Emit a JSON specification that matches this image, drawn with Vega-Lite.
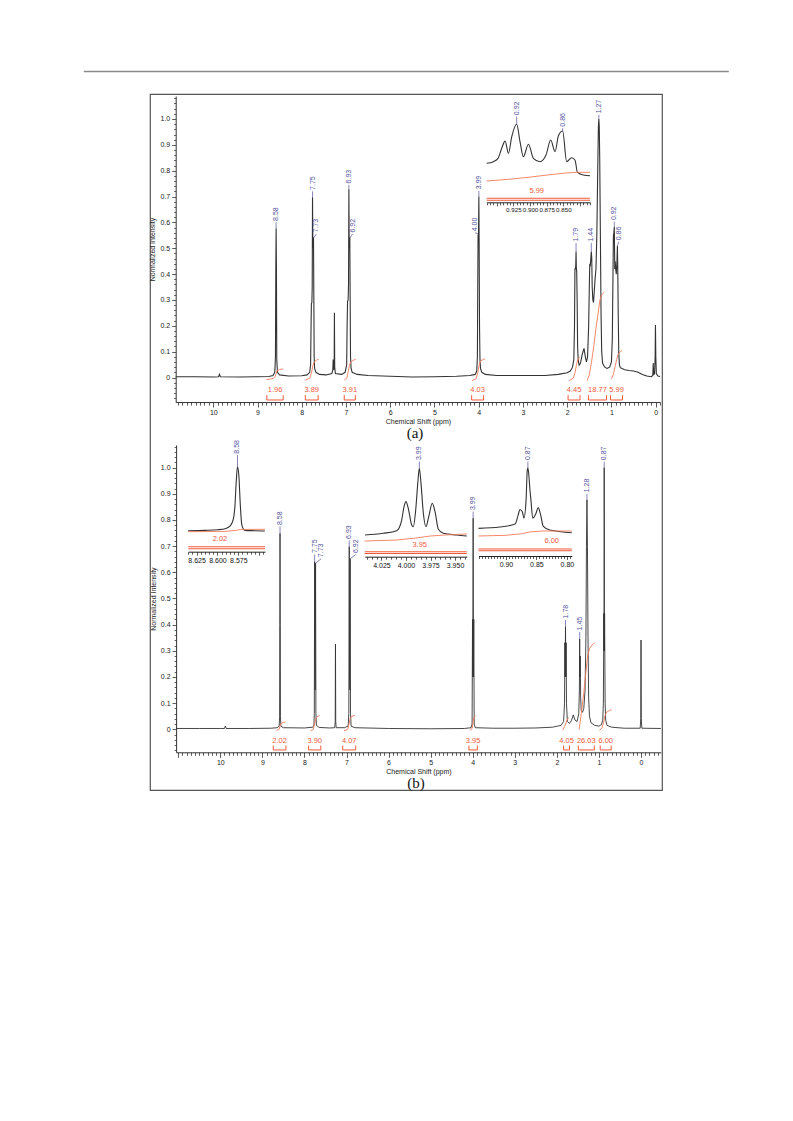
{
"$schema":"https://vega.github.io/schema/vega-lite/v6.json",
"width":512,"height":696,
"autosize":{"type":"none"},
"padding":{"left":150,"top":94,"right":131,"bottom":331},
"background":"white",
"config":{"view":{"stroke":"#555","strokeWidth":1.2},
"axis":{"grid":false,"labelFont":"Liberation Sans","titleFont":"Liberation Sans","labelFontSize":7,"titleFontSize":7,"titleFontWeight":"normal","domainColor":"#333","tickColor":"#333","labelColor":"#222","titleColor":"#222","domainWidth":1,"tickWidth":0.8},
"text":{"font":"Liberation Sans"}},
"datasets":{
"specA":[{"ppm":10.85,"y":0.003},{"ppm":10.4,"y":0.003},{"ppm":10.0,"y":0.002},{"ppm":9.88,"y":0.003},{"ppm":9.86,"y":0.012},{"ppm":9.84,"y":0.003},{"ppm":9.4,"y":0.002},{"ppm":9.0,"y":0.003},{"ppm":8.75,"y":0.004},{"ppm":8.65,"y":0.008},{"ppm":8.61,"y":0.02},{"ppm":8.595,"y":0.08},{"ppm":8.587,"y":0.42},{"ppm":8.58,"y":0.577},{"ppm":8.573,"y":0.42},{"ppm":8.565,"y":0.07},{"ppm":8.55,"y":0.02},{"ppm":8.5,"y":0.01},{"ppm":8.3,"y":0.006},{"ppm":8.0,"y":0.007},{"ppm":7.88,"y":0.01},{"ppm":7.82,"y":0.02},{"ppm":7.8,"y":0.05},{"ppm":7.79,"y":0.2},{"ppm":7.783,"y":0.285},{"ppm":7.772,"y":0.29},{"ppm":7.764,"y":0.35},{"ppm":7.757,"y":0.697},{"ppm":7.75,"y":0.5},{"ppm":7.744,"y":0.54},{"ppm":7.735,"y":0.54},{"ppm":7.727,"y":0.3},{"ppm":7.72,"y":0.08},{"ppm":7.71,"y":0.035},{"ppm":7.68,"y":0.02},{"ppm":7.6,"y":0.012},{"ppm":7.45,"y":0.01},{"ppm":7.32,"y":0.015},{"ppm":7.298,"y":0.03},{"ppm":7.29,"y":0.07},{"ppm":7.282,"y":0.03},{"ppm":7.268,"y":0.04},{"ppm":7.262,"y":0.25},{"ppm":7.256,"y":0.04},{"ppm":7.24,"y":0.015},{"ppm":7.1,"y":0.012},{"ppm":7.02,"y":0.02},{"ppm":6.985,"y":0.05},{"ppm":6.975,"y":0.2},{"ppm":6.965,"y":0.295},{"ppm":6.952,"y":0.3},{"ppm":6.943,"y":0.36},{"ppm":6.935,"y":0.728},{"ppm":6.928,"y":0.5},{"ppm":6.922,"y":0.54},{"ppm":6.914,"y":0.54},{"ppm":6.906,"y":0.3},{"ppm":6.898,"y":0.08},{"ppm":6.885,"y":0.035},{"ppm":6.86,"y":0.02},{"ppm":6.75,"y":0.012},{"ppm":6.5,"y":0.008},{"ppm":6.0,"y":0.005},{"ppm":5.5,"y":0.002},{"ppm":5.0,"y":0.003},{"ppm":4.5,"y":0.005},{"ppm":4.2,"y":0.008},{"ppm":4.08,"y":0.012},{"ppm":4.045,"y":0.025},{"ppm":4.03,"y":0.08},{"ppm":4.022,"y":0.35},{"ppm":4.015,"y":0.55},{"ppm":4.005,"y":0.555},{"ppm":3.997,"y":0.7},{"ppm":3.99,"y":0.5},{"ppm":3.982,"y":0.2},{"ppm":3.972,"y":0.07},{"ppm":3.96,"y":0.035},{"ppm":3.93,"y":0.02},{"ppm":3.85,"y":0.012},{"ppm":3.6,"y":0.008},{"ppm":3.0,"y":0.008},{"ppm":2.5,"y":0.008},{"ppm":2.2,"y":0.012},{"ppm":2.0,"y":0.018},{"ppm":1.93,"y":0.025},{"ppm":1.88,"y":0.04},{"ppm":1.85,"y":0.07},{"ppm":1.835,"y":0.2},{"ppm":1.825,"y":0.42},{"ppm":1.815,"y":0.42},{"ppm":1.807,"y":0.43},{"ppm":1.8,"y":0.487},{"ppm":1.793,"y":0.42},{"ppm":1.785,"y":0.41},{"ppm":1.775,"y":0.3},{"ppm":1.765,"y":0.12},{"ppm":1.75,"y":0.065},{"ppm":1.73,"y":0.048},{"ppm":1.7,"y":0.055},{"ppm":1.66,"y":0.09},{"ppm":1.62,"y":0.113},{"ppm":1.59,"y":0.08},{"ppm":1.565,"y":0.06},{"ppm":1.54,"y":0.08},{"ppm":1.515,"y":0.2},{"ppm":1.5,"y":0.35},{"ppm":1.49,"y":0.44},{"ppm":1.48,"y":0.43},{"ppm":1.47,"y":0.45},{"ppm":1.455,"y":0.487},{"ppm":1.445,"y":0.46},{"ppm":1.435,"y":0.35},{"ppm":1.42,"y":0.3},{"ppm":1.405,"y":0.29},{"ppm":1.39,"y":0.33},{"ppm":1.37,"y":0.38},{"ppm":1.35,"y":0.42},{"ppm":1.33,"y":0.55},{"ppm":1.31,"y":0.8},{"ppm":1.295,"y":0.97},{"ppm":1.285,"y":1.0},{"ppm":1.275,"y":0.97},{"ppm":1.265,"y":0.85},{"ppm":1.25,"y":0.55},{"ppm":1.235,"y":0.25},{"ppm":1.22,"y":0.1},{"ppm":1.2,"y":0.055},{"ppm":1.15,"y":0.04},{"ppm":1.1,"y":0.035},{"ppm":1.04,"y":0.04},{"ppm":1.0,"y":0.06},{"ppm":0.98,"y":0.15},{"ppm":0.965,"y":0.4},{"ppm":0.955,"y":0.55},{"ppm":0.945,"y":0.56},{"ppm":0.935,"y":0.583},{"ppm":0.925,"y":0.42},{"ppm":0.915,"y":0.45},{"ppm":0.905,"y":0.42},{"ppm":0.89,"y":0.4},{"ppm":0.875,"y":0.45},{"ppm":0.865,"y":0.51},{"ppm":0.857,"y":0.42},{"ppm":0.847,"y":0.25},{"ppm":0.835,"y":0.1},{"ppm":0.82,"y":0.05},{"ppm":0.8,"y":0.038},{"ppm":0.7,"y":0.03},{"ppm":0.6,"y":0.027},{"ppm":0.5,"y":0.025},{"ppm":0.4,"y":0.02},{"ppm":0.3,"y":0.012},{"ppm":0.2,"y":0.006},{"ppm":0.1,"y":0.003},{"ppm":0.065,"y":0.008},{"ppm":0.055,"y":0.056},{"ppm":0.045,"y":0.012},{"ppm":0.025,"y":0.015},{"ppm":0.012,"y":0.08},{"ppm":0.005,"y":0.203},{"ppm":-0.003,"y":0.08},{"ppm":-0.015,"y":0.015},{"ppm":-0.05,"y":0.006},{"ppm":-0.1,"y":0.004}],
"intA":[{"g":"a1","ppm":8.8,"y":-0.008},{"g":"a1","ppm":8.65,"y":-0.004},{"g":"a1","ppm":8.6,"y":0.004},{"g":"a1","ppm":8.58,"y":0.015},{"g":"a1","ppm":8.56,"y":0.026},{"g":"a1","ppm":8.5,"y":0.031},{"g":"a1","ppm":8.42,"y":0.033},
{"g":"a2","ppm":7.92,"y":-0.01},{"g":"a2","ppm":7.82,"y":-0.003},{"g":"a2","ppm":7.78,"y":0.018},{"g":"a2","ppm":7.75,"y":0.045},{"g":"a2","ppm":7.72,"y":0.06},{"g":"a2","ppm":7.66,"y":0.068},{"g":"a2","ppm":7.62,"y":0.07},
{"g":"a3","ppm":7.04,"y":-0.01},{"g":"a3","ppm":6.98,"y":-0.002},{"g":"a3","ppm":6.95,"y":0.022},{"g":"a3","ppm":6.92,"y":0.05},{"g":"a3","ppm":6.88,"y":0.062},{"g":"a3","ppm":6.82,"y":0.068},{"g":"a3","ppm":6.78,"y":0.07},
{"g":"a4","ppm":4.15,"y":-0.012},{"g":"a4","ppm":4.06,"y":-0.005},{"g":"a4","ppm":4.02,"y":0.02},{"g":"a4","ppm":3.99,"y":0.048},{"g":"a4","ppm":3.96,"y":0.063},{"g":"a4","ppm":3.9,"y":0.07},{"g":"a4","ppm":3.86,"y":0.072},
{"g":"a5","ppm":1.95,"y":-0.012},{"g":"a5","ppm":1.86,"y":-0.002},{"g":"a5","ppm":1.82,"y":0.02},{"g":"a5","ppm":1.79,"y":0.05},{"g":"a5","ppm":1.76,"y":0.068},{"g":"a5","ppm":1.72,"y":0.08},
{"g":"a6","ppm":1.55,"y":-0.012},{"g":"a6","ppm":1.5,"y":0.01},{"g":"a6","ppm":1.45,"y":0.06},{"g":"a6","ppm":1.4,"y":0.12},{"g":"a6","ppm":1.35,"y":0.19},{"g":"a6","ppm":1.3,"y":0.25},{"g":"a6","ppm":1.26,"y":0.3},{"g":"a6","ppm":1.22,"y":0.32},{"g":"a6","ppm":1.16,"y":0.33},
{"g":"a7","ppm":1.0,"y":-0.005},{"g":"a7","ppm":0.96,"y":0.01},{"g":"a7","ppm":0.92,"y":0.04},{"g":"a7","ppm":0.88,"y":0.07},{"g":"a7","ppm":0.85,"y":0.09},{"g":"a7","ppm":0.8,"y":0.1},{"g":"a7","ppm":0.76,"y":0.105}],
"brkA":[{"lo":8.79,"hi":8.42,"mid":8.605,"label":"1.96"},{"lo":7.92,"hi":7.63,"mid":7.775,"label":"3.89"},{"lo":7.04,"hi":6.79,"mid":6.915,"label":"3.91"},{"lo":4.16,"hi":3.89,"mid":4.025,"label":"4.03"},{"lo":1.98,"hi":1.71,"mid":1.845,"label":"4.45"},{"lo":1.52,"hi":1.11,"mid":1.315,"label":"18.77"},{"lo":1.02,"hi":0.75,"mid":0.885,"label":"5.99"}],
"pkA":[{"px":8.58,"py":0.577,"lx":8.58,"ly":0.6,"label":"8.58"},{"px":7.757,"py":0.697,"lx":7.757,"ly":0.72,"label":"7.75"},{"px":7.735,"py":0.54,"lx":7.67,"ly":0.555,"label":"7.73"},{"px":6.935,"py":0.728,"lx":6.935,"ly":0.745,"label":"6.93"},{"px":6.914,"py":0.54,"lx":6.85,"ly":0.555,"label":"6.92"},{"px":3.997,"py":0.7,"lx":3.997,"ly":0.722,"label":"3.99"},{"px":4.012,"py":0.555,"lx":4.08,"ly":0.56,"label":"4.00"},{"px":1.8,"py":0.487,"lx":1.8,"ly":0.52,"label":"1.79"},{"px":1.455,"py":0.487,"lx":1.455,"ly":0.52,"label":"1.44"},{"px":1.285,"py":1.0,"lx":1.285,"ly":1.016,"label":"1.27"},{"px":0.935,"py":0.583,"lx":0.935,"ly":0.603,"label":"0.92"},{"px":0.865,"py":0.51,"lx":0.83,"ly":0.525,"label":"0.86"}],
"insA":[{"ppm":0.965,"v":0.35},{"ppm":0.955,"v":0.377},{"ppm":0.948,"v":0.433},{"ppm":0.9425,"v":0.6},{"ppm":0.9374,"v":0.72},{"ppm":0.9324,"v":0.517},{"ppm":0.9274,"v":0.793},{"ppm":0.92,"v":1.0},{"ppm":0.915,"v":0.71},{"ppm":0.91,"v":0.46},{"ppm":0.9024,"v":0.667},{"ppm":0.8949,"v":0.433},{"ppm":0.885,"v":0.377},{"ppm":0.876,"v":0.488},{"ppm":0.869,"v":0.738},{"ppm":0.8624,"v":0.543},{"ppm":0.8574,"v":0.81},{"ppm":0.851,"v":0.888},{"ppm":0.845,"v":0.377},{"ppm":0.8374,"v":0.443},{"ppm":0.8324,"v":0.4},{"ppm":0.8289,"v":0.2},{"ppm":0.82,"v":0.155},{"ppm":0.81,"v":0.143}],
"insAint":[{"ppm":0.965,"v":0.055},{"ppm":0.93,"v":0.085},{"ppm":0.9,"v":0.12},{"ppm":0.87,"v":0.16},{"ppm":0.845,"v":0.19},{"ppm":0.83,"v":0.2},{"ppm":0.81,"v":0.2}],
"insApk":[{"px":0.92,"py":1.0,"ly":1.127,"label":"0.92"},{"px":0.851,"py":0.888,"ly":0.935,"label":"0.86"}],
"specB":[{"ppm":11.05,"y":0.003},{"ppm":10.5,"y":0.003},{"ppm":10.0,"y":0.003},{"ppm":9.9,"y":0.003},{"ppm":9.88,"y":0.012},{"ppm":9.86,"y":0.003},{"ppm":9.3,"y":0.003},{"ppm":8.8,"y":0.004},{"ppm":8.65,"y":0.006},{"ppm":8.6,"y":0.012},{"ppm":8.59,"y":0.05},{"ppm":8.585,"y":0.4},{"ppm":8.58,"y":0.749},{"ppm":8.575,"y":0.4},{"ppm":8.57,"y":0.05},{"ppm":8.56,"y":0.012},{"ppm":8.5,"y":0.006},{"ppm":8.0,"y":0.005},{"ppm":7.8,"y":0.008},{"ppm":7.775,"y":0.015},{"ppm":7.765,"y":0.06},{"ppm":7.757,"y":0.641},{"ppm":7.75,"y":0.2},{"ppm":7.743,"y":0.15},{"ppm":7.735,"y":0.635},{"ppm":7.727,"y":0.06},{"ppm":7.715,"y":0.015},{"ppm":7.65,"y":0.007},{"ppm":7.4,"y":0.005},{"ppm":7.28,"y":0.006},{"ppm":7.268,"y":0.03},{"ppm":7.262,"y":0.326},{"ppm":7.256,"y":0.03},{"ppm":7.245,"y":0.006},{"ppm":7.05,"y":0.006},{"ppm":6.96,"y":0.012},{"ppm":6.945,"y":0.06},{"ppm":6.935,"y":0.698},{"ppm":6.928,"y":0.2},{"ppm":6.92,"y":0.15},{"ppm":6.913,"y":0.652},{"ppm":6.905,"y":0.06},{"ppm":6.89,"y":0.012},{"ppm":6.8,"y":0.006},{"ppm":6.0,"y":0.003},{"ppm":5.0,"y":0.002},{"ppm":4.2,"y":0.003},{"ppm":4.04,"y":0.006},{"ppm":4.015,"y":0.02},{"ppm":4.005,"y":0.42},{"ppm":3.998,"y":0.2},{"ppm":3.99,"y":0.807},{"ppm":3.982,"y":0.2},{"ppm":3.975,"y":0.42},{"ppm":3.965,"y":0.02},{"ppm":3.94,"y":0.006},{"ppm":3.5,"y":0.004},{"ppm":3.0,"y":0.004},{"ppm":2.5,"y":0.005},{"ppm":2.1,"y":0.008},{"ppm":1.9,"y":0.015},{"ppm":1.84,"y":0.03},{"ppm":1.818,"y":0.1},{"ppm":1.81,"y":0.331},{"ppm":1.803,"y":0.2},{"ppm":1.795,"y":0.392},{"ppm":1.787,"y":0.2},{"ppm":1.78,"y":0.331},{"ppm":1.772,"y":0.1},{"ppm":1.75,"y":0.03},{"ppm":1.7,"y":0.022},{"ppm":1.65,"y":0.035},{"ppm":1.61,"y":0.055},{"ppm":1.57,"y":0.035},{"ppm":1.52,"y":0.03},{"ppm":1.48,"y":0.06},{"ppm":1.465,"y":0.15},{"ppm":1.458,"y":0.345},{"ppm":1.452,"y":0.2},{"ppm":1.445,"y":0.28},{"ppm":1.435,"y":0.12},{"ppm":1.42,"y":0.07},{"ppm":1.39,"y":0.065},{"ppm":1.36,"y":0.08},{"ppm":1.33,"y":0.15},{"ppm":1.31,"y":0.35},{"ppm":1.297,"y":0.7},{"ppm":1.285,"y":0.877},{"ppm":1.273,"y":0.7},{"ppm":1.26,"y":0.35},{"ppm":1.245,"y":0.12},{"ppm":1.225,"y":0.05},{"ppm":1.19,"y":0.025},{"ppm":1.1,"y":0.015},{"ppm":1.0,"y":0.012},{"ppm":0.94,"y":0.018},{"ppm":0.91,"y":0.035},{"ppm":0.895,"y":0.1},{"ppm":0.888,"y":0.3},{"ppm":0.884,"y":0.443},{"ppm":0.879,"y":0.3},{"ppm":0.875,"y":1.0},{"ppm":0.87,"y":0.3},{"ppm":0.866,"y":0.443},{"ppm":0.861,"y":0.3},{"ppm":0.853,"y":0.1},{"ppm":0.84,"y":0.035},{"ppm":0.81,"y":0.015},{"ppm":0.7,"y":0.008},{"ppm":0.4,"y":0.004},{"ppm":0.02,"y":0.004},{"ppm":0.006,"y":0.04},{"ppm":0.0,"y":0.341},{"ppm":-0.006,"y":0.04},{"ppm":-0.02,"y":0.004},{"ppm":-0.47,"y":0.003}],
"intB":[{"g":"b1","ppm":8.66,"y":-0.005},{"g":"b1","ppm":8.6,"y":0.0},{"g":"b1","ppm":8.58,"y":0.012},{"g":"b1","ppm":8.56,"y":0.022},{"g":"b1","ppm":8.5,"y":0.026},{"g":"b1","ppm":8.45,"y":0.028},
{"g":"b2","ppm":7.86,"y":-0.006},{"g":"b2","ppm":7.79,"y":0.0},{"g":"b2","ppm":7.76,"y":0.02},{"g":"b2","ppm":7.73,"y":0.04},{"g":"b2","ppm":7.7,"y":0.048},{"g":"b2","ppm":7.64,"y":0.052},
{"g":"b3","ppm":7.06,"y":-0.006},{"g":"b3","ppm":6.97,"y":0.0},{"g":"b3","ppm":6.94,"y":0.02},{"g":"b3","ppm":6.91,"y":0.042},{"g":"b3","ppm":6.87,"y":0.05},{"g":"b3","ppm":6.8,"y":0.053},
{"g":"b4","ppm":4.06,"y":-0.005},{"g":"b4","ppm":4.01,"y":0.005},{"g":"b4","ppm":3.99,"y":0.03},{"g":"b4","ppm":3.97,"y":0.045},{"g":"b4","ppm":3.93,"y":0.052},
{"g":"b5","ppm":1.86,"y":-0.003},{"g":"b5","ppm":1.82,"y":0.01},{"g":"b5","ppm":1.79,"y":0.02},{"g":"b5","ppm":1.76,"y":0.035},{"g":"b5","ppm":1.72,"y":0.045},
{"g":"b6","ppm":1.47,"y":0.0},{"g":"b6","ppm":1.42,"y":0.06},{"g":"b6","ppm":1.36,"y":0.14},{"g":"b6","ppm":1.31,"y":0.22},{"g":"b6","ppm":1.27,"y":0.28},{"g":"b6","ppm":1.22,"y":0.31},{"g":"b6","ppm":1.15,"y":0.325},{"g":"b6","ppm":1.1,"y":0.33},
{"g":"b7","ppm":0.99,"y":-0.005},{"g":"b7","ppm":0.93,"y":0.005},{"g":"b7","ppm":0.89,"y":0.025},{"g":"b7","ppm":0.86,"y":0.05},{"g":"b7","ppm":0.82,"y":0.065},{"g":"b7","ppm":0.75,"y":0.072},{"g":"b7","ppm":0.7,"y":0.075}],
"brkB":[{"lo":8.74,"hi":8.44,"mid":8.59,"label":"2.02"},{"lo":7.9,"hi":7.61,"mid":7.755,"label":"3.90"},{"lo":7.09,"hi":6.78,"mid":6.935,"label":"4.07"},{"lo":4.09,"hi":3.89,"mid":3.99,"label":"3.95"},{"lo":1.84,"hi":1.7,"mid":1.77,"label":"4.05"},{"lo":1.49,"hi":1.11,"mid":1.3,"label":"26.03"},{"lo":0.97,"hi":0.71,"mid":0.84,"label":"6.00"}],
"pkB":[{"px":8.58,"py":0.749,"lx":8.58,"ly":0.775,"label":"8.58"},{"px":7.757,"py":0.641,"lx":7.757,"ly":0.668,"label":"7.75"},{"px":7.735,"py":0.635,"lx":7.6,"ly":0.652,"label":"7.73"},{"px":6.935,"py":0.698,"lx":6.935,"ly":0.722,"label":"6.93"},{"px":6.913,"py":0.652,"lx":6.78,"ly":0.668,"label":"6.92"},{"px":3.99,"py":0.807,"lx":3.99,"ly":0.832,"label":"3.99"},{"px":1.795,"py":0.392,"lx":1.795,"ly":0.418,"label":"1.78"},{"px":1.458,"py":0.345,"lx":1.458,"ly":0.372,"label":"1.45"},{"px":1.285,"py":0.877,"lx":1.285,"ly":0.9,"label":"1.28"},{"px":0.875,"py":1.0,"lx":0.875,"ly":1.023,"label":"0.87"}],
"insB1":[{"ppm":8.6353,"v":0.0},{"ppm":8.615,"v":0.005},{"ppm":8.6,"v":0.015},{"ppm":8.59,"v":0.035},{"ppm":8.5845,"v":0.08},{"ppm":8.581,"v":0.18},{"ppm":8.579,"v":0.4},{"ppm":8.5774,"v":0.79},{"ppm":8.576,"v":1.0},{"ppm":8.5744,"v":0.87},{"ppm":8.5726,"v":0.4},{"ppm":8.5708,"v":0.09},{"ppm":8.5672,"v":0.005},{"ppm":8.555,"v":0.0},{"ppm":8.5432,"v":-0.005}],
"insB1int":[{"ppm":8.635,"v":-0.016},{"ppm":8.59,"v":-0.01},{"ppm":8.578,"v":0.005},{"ppm":8.572,"v":0.02},{"ppm":8.543,"v":0.022}],
"insB2":[{"ppm":4.0418,"v":0.015},{"ppm":4.0232,"v":0.04},{"ppm":4.0095,"v":0.078},{"ppm":4.0044,"v":0.236},{"ppm":4.002,"v":0.433},{"ppm":4.0,"v":0.507},{"ppm":3.9977,"v":0.41},{"ppm":3.9942,"v":0.162},{"ppm":3.9926,"v":0.137},{"ppm":3.9901,"v":0.384},{"ppm":3.988,"v":0.778},{"ppm":3.9864,"v":1.0},{"ppm":3.9847,"v":0.778},{"ppm":3.9823,"v":0.335},{"ppm":3.9796,"v":0.137},{"ppm":3.9768,"v":0.285},{"ppm":3.9732,"v":0.483},{"ppm":3.9704,"v":0.359},{"ppm":3.967,"v":0.099},{"ppm":3.9619,"v":0.04},{"ppm":3.9483,"v":0.015},{"ppm":3.938,"v":0.0}],
"insB2int":[{"ppm":4.042,"v":-0.074},{"ppm":4.01,"v":-0.06},{"ppm":3.99,"v":-0.03},{"ppm":3.975,"v":0.0},{"ppm":3.96,"v":0.015},{"ppm":3.938,"v":0.03}],
"insB3":[{"ppm":0.945,"v":0.027},{"ppm":0.91,"v":0.048},{"ppm":0.885,"v":0.096},{"ppm":0.88,"v":0.24},{"ppm":0.877,"v":0.33},{"ppm":0.873,"v":0.29},{"ppm":0.8705,"v":0.19},{"ppm":0.867,"v":0.48},{"ppm":0.865,"v":0.96},{"ppm":0.864,"v":1.0},{"ppm":0.862,"v":0.83},{"ppm":0.861,"v":0.69},{"ppm":0.859,"v":0.48},{"ppm":0.856,"v":0.19},{"ppm":0.851,"v":0.26},{"ppm":0.847,"v":0.36},{"ppm":0.843,"v":0.24},{"ppm":0.839,"v":0.064},{"ppm":0.828,"v":0.0},{"ppm":0.792,"v":-0.043}],
"insB3int":[{"ppm":0.945,"v":-0.096},{"ppm":0.9,"v":-0.085},{"ppm":0.875,"v":-0.06},{"ppm":0.86,"v":-0.03},{"ppm":0.84,"v":-0.016},{"ppm":0.792,"v":-0.016}]
},
"layer":[
{"data":{"values":[{"e":0},{"e":1}]},"mark":{"type":"point","opacity":0},
 "encoding":{"x":{"field":"e","type":"quantitative","scale":{"domain":[0,1],"range":[-66.7,578.3],"nice":false,"zero":false},"axis":{"orient":"top","offset":23,"ticks":false,"labels":false,"title":null,"domainColor":"#8a8a8a","domainWidth":1.6}}}},
{"layer":[
 {"data":{"name":"specA"},"mark":{"type":"line","color":"#333","strokeWidth":1.1},
  "encoding":{
   "x":{"field":"ppm","type":"quantitative","scale":{"domain":[10.85,-0.1],"range":[25.7,510.1],"nice":false,"zero":false},
     "axis":{"orient":"bottom","offset":-387.94,"tickCount":110,"labelExpr":"abs(datum.value-round(datum.value))<0.001 ? format(datum.value,'d') : ''","tickSize":{"condition":{"test":"abs(datum.value-round(datum.value))<0.001","value":5},"value":3},"labelOverlap":false,"labelFlush":false,"labelPadding":1,"title":"Chemical Shift (ppm)","titlePadding":2}},
   "y":{"field":"y","type":"quantitative","scale":{"domain":[-0.095,1.089],"range":[308.06,1.99],"nice":false,"zero":false},
     "axis":{"orient":"left","offset":-25.7,"tickCount":60,"labelExpr":"datum.value>-0.001 && abs(datum.value*10-round(datum.value*10))<0.001 ? (abs(datum.value)<0.001 ? '0' : format(datum.value,'.1f')) : ''","tickSize":{"condition":{"test":"abs(datum.value*10-round(datum.value*10))<0.001","value":4},"value":2},"labelOverlap":false,"labelFlush":false,"labelPadding":2,"title":"Normalized Intensity","titlePadding":4}},
   "order":{"field":"ppm","sort":"descending"}}},
 {"data":{"name":"intA"},"mark":{"type":"line","color":"#f47a5a","strokeWidth":0.9},
  "encoding":{"x":{"field":"ppm","type":"quantitative"},"y":{"field":"y","type":"quantitative"},"detail":{"field":"g"},"order":{"field":"ppm","sort":"descending"}}},
 {"data":{"name":"brkA"},"mark":{"type":"rule","color":"#f05a3c","strokeWidth":1},
  "encoding":{"x":{"field":"lo","type":"quantitative"},"x2":{"field":"hi"},"y":{"datum":-0.087,"type":"quantitative"}}},
 {"data":{"name":"brkA"},"mark":{"type":"rule","color":"#f05a3c","strokeWidth":1},
  "encoding":{"x":{"field":"lo","type":"quantitative"},"y":{"datum":-0.087,"type":"quantitative"},"y2":{"datum":-0.068}}},
 {"data":{"name":"brkA"},"mark":{"type":"rule","color":"#f05a3c","strokeWidth":1},
  "encoding":{"x":{"field":"hi","type":"quantitative"},"y":{"datum":-0.087,"type":"quantitative"},"y2":{"datum":-0.068}}},
 {"data":{"name":"brkA"},"mark":{"type":"text","color":"#f05a3c","fontSize":7.5,"baseline":"middle"},
  "encoding":{"x":{"field":"mid","type":"quantitative"},"y":{"datum":-0.05,"type":"quantitative"},"text":{"field":"label","type":"nominal"}}},
 {"data":{"name":"pkA"},"mark":{"type":"rule","color":"#5252a0","strokeWidth":0.7},
  "encoding":{"x":{"field":"px","type":"quantitative"},"y":{"field":"py","type":"quantitative"},"x2":{"field":"lx"},"y2":{"field":"ly"}}},
 {"data":{"name":"pkA"},"mark":{"type":"text","color":"#5252a0","fontSize":7,"angle":270,"align":"left","baseline":"middle","dx":1.5},
  "encoding":{"x":{"field":"lx","type":"quantitative"},"y":{"field":"ly","type":"quantitative"},"text":{"field":"label","type":"nominal"}}},
 {"data":{"values":[{"t":"(a)"}]},"mark":{"type":"text","font":"Liberation Serif","fontSize":15,"color":"#111","baseline":"middle"},
  "encoding":{"x":{"datum":5.44,"type":"quantitative"},"y":{"datum":-0.215,"type":"quantitative"},"text":{"field":"t","type":"nominal"}}}
]},
{"layer":[
 {"data":{"name":"insA"},"mark":{"type":"line","color":"#333","strokeWidth":1.1,"interpolate":"monotone"},
  "encoding":{
   "x":{"field":"ppm","type":"quantitative","scale":{"domain":[0.965,0.81],"range":[336.7,440],"nice":false,"zero":false},
     "axis":{"orient":"bottom","offset":-587.7,"tickCount":31,"labelExpr":"(abs(datum.value*40-round(datum.value*40))<0.001 && datum.value<0.93 && datum.value>0.84) ? format(datum.value,'.3f') : ''","tickSize":{"condition":{"test":"abs(datum.value*40-round(datum.value*40))<0.001","value":3.5},"value":2.5},"labelOverlap":false,"labelFlush":false,"labelPadding":1,"labelFontSize":6.2,"labelColor":"#111","domainColor":"#222","title":null}},
   "y":{"field":"v","type":"quantitative","scale":{"domain":[-0.3,1.0],"range":[108.3,30.3],"nice":false,"zero":false},"axis":null},
   "order":{"field":"ppm","sort":"descending"}}},
 {"data":{"name":"insAint"},"mark":{"type":"line","color":"#f47a5a","strokeWidth":0.9},
  "encoding":{"x":{"field":"ppm","type":"quantitative"},"y":{"field":"v","type":"quantitative","axis":null},"order":{"field":"ppm","sort":"descending"}}},
 {"data":{"values":[{}]},"mark":{"type":"rule","color":"#f05a3c","strokeWidth":1.1},
  "encoding":{"x":{"datum":0.965,"type":"quantitative"},"x2":{"datum":0.81},"y":{"datum":-0.233,"type":"quantitative","axis":null}}},
 {"data":{"values":[{}]},"mark":{"type":"rule","color":"#f05a3c","strokeWidth":1.1},
  "encoding":{"x":{"datum":0.965,"type":"quantitative"},"x2":{"datum":0.81},"y":{"datum":-0.267,"type":"quantitative","axis":null}}},
 {"data":{"values":[{"ppm":0.89,"v":-0.107,"label":"5.99"}]},"mark":{"type":"text","color":"#f05a3c","fontSize":7.5,"baseline":"middle"},
  "encoding":{"x":{"field":"ppm","type":"quantitative"},"y":{"field":"v","type":"quantitative","axis":null},"text":{"field":"label","type":"nominal"}}},
 {"data":{"name":"insApk"},"mark":{"type":"rule","color":"#5252a0","strokeWidth":0.7},
  "encoding":{"x":{"field":"px","type":"quantitative"},"y":{"field":"py","type":"quantitative","axis":null},"y2":{"field":"ly"}}},
 {"data":{"name":"insApk"},"mark":{"type":"text","color":"#5252a0","fontSize":7,"angle":270,"align":"left","baseline":"middle","dx":1.5},
  "encoding":{"x":{"field":"px","type":"quantitative"},"y":{"field":"ly","type":"quantitative","axis":null},"text":{"field":"label","type":"nominal"}}}
]},
{"layer":[
 {"data":{"name":"specB"},"mark":{"type":"line","color":"#333","strokeWidth":0.9},
  "encoding":{
   "x":{"field":"ppm","type":"quantitative","scale":{"domain":[11.05,-0.47],"range":[26.1,510.8],"nice":false,"zero":false},
     "axis":{"orient":"bottom","offset":-37.7,"tickCount":115,"labelExpr":"(abs(datum.value-round(datum.value))<0.001 && datum.value<10.5) ? format(datum.value,'d') : ''","tickSize":{"condition":{"test":"abs(datum.value-round(datum.value))<0.001","value":5},"value":3},"labelOverlap":false,"labelFlush":false,"labelPadding":1,"title":"Chemical Shift (ppm)","titlePadding":2}},
   "y":{"field":"y","type":"quantitative","scale":{"domain":[-0.088,1.087],"range":[658.3,350.9],"nice":false,"zero":false},
     "axis":{"orient":"left","offset":-26.1,"tickCount":60,"labelExpr":"datum.value>-0.001 && abs(datum.value*10-round(datum.value*10))<0.001 ? (abs(datum.value)<0.001 ? '0' : format(datum.value,'.1f')) : ''","tickSize":{"condition":{"test":"abs(datum.value*10-round(datum.value*10))<0.001","value":4},"value":2},"labelOverlap":false,"labelFlush":false,"labelPadding":2,"title":"Normalized Intensity","titlePadding":4}},
   "order":{"field":"ppm","sort":"descending"}}},
 {"data":{"name":"intB"},"mark":{"type":"line","color":"#f47a5a","strokeWidth":0.9},
  "encoding":{"x":{"field":"ppm","type":"quantitative"},"y":{"field":"y","type":"quantitative"},"detail":{"field":"g"},"order":{"field":"ppm","sort":"descending"}}},
 {"data":{"name":"brkB"},"mark":{"type":"rule","color":"#f05a3c","strokeWidth":1},
  "encoding":{"x":{"field":"lo","type":"quantitative"},"x2":{"field":"hi"},"y":{"datum":-0.079,"type":"quantitative"}}},
 {"data":{"name":"brkB"},"mark":{"type":"rule","color":"#f05a3c","strokeWidth":1},
  "encoding":{"x":{"field":"lo","type":"quantitative"},"y":{"datum":-0.079,"type":"quantitative"},"y2":{"datum":-0.062}}},
 {"data":{"name":"brkB"},"mark":{"type":"rule","color":"#f05a3c","strokeWidth":1},
  "encoding":{"x":{"field":"hi","type":"quantitative"},"y":{"datum":-0.079,"type":"quantitative"},"y2":{"datum":-0.062}}},
 {"data":{"name":"brkB"},"mark":{"type":"text","color":"#f05a3c","fontSize":7.5,"baseline":"middle"},
  "encoding":{"x":{"field":"mid","type":"quantitative"},"y":{"datum":-0.045,"type":"quantitative"},"text":{"field":"label","type":"nominal"}}},
 {"data":{"name":"pkB"},"mark":{"type":"rule","color":"#5252a0","strokeWidth":0.7},
  "encoding":{"x":{"field":"px","type":"quantitative"},"y":{"field":"py","type":"quantitative"},"x2":{"field":"lx"},"y2":{"field":"ly"}}},
 {"data":{"name":"pkB"},"mark":{"type":"text","color":"#5252a0","fontSize":7,"angle":270,"align":"left","baseline":"middle","dx":1.5},
  "encoding":{"x":{"field":"lx","type":"quantitative"},"y":{"field":"ly","type":"quantitative"},"text":{"field":"label","type":"nominal"}}},
 {"data":{"values":[{"t":"(b)"}]},"mark":{"type":"text","font":"Liberation Serif","fontSize":15,"color":"#111","baseline":"middle"},
  "encoding":{"x":{"datum":5.35,"type":"quantitative"},"y":{"datum":-0.205,"type":"quantitative"},"text":{"field":"t","type":"nominal"}}}
]},
{"layer":[
 {"data":{"name":"insB1"},"mark":{"type":"line","color":"#333","strokeWidth":1.1,"interpolate":"monotone"},
  "encoding":{
   "x":{"field":"ppm","type":"quantitative","scale":{"domain":[8.635,8.543],"range":[38.3,115],"nice":false,"zero":false},
     "axis":{"orient":"bottom","offset":-238.3,"tickCount":19,"labelExpr":"(abs(datum.value*40-round(datum.value*40))<0.001 && datum.value>8.56) ? format(datum.value,'.3f') : ''","tickSize":{"condition":{"test":"abs(datum.value*40-round(datum.value*40))<0.001","value":3.5},"value":2.5},"labelOverlap":false,"labelFlush":false,"labelPadding":1,"labelColor":"#111","domainColor":"#222","title":null}},
   "y":{"field":"v","type":"quantitative","scale":{"domain":[-0.328,1.0],"range":[457.7,372.7],"nice":false,"zero":false},"axis":null},
   "order":{"field":"ppm","sort":"descending"}}},
 {"data":{"name":"insB1int"},"mark":{"type":"line","color":"#f47a5a","strokeWidth":0.9},
  "encoding":{"x":{"field":"ppm","type":"quantitative"},"y":{"field":"v","type":"quantitative","axis":null},"order":{"field":"ppm","sort":"descending"}}},
 {"data":{"values":[{}]},"mark":{"type":"rule","color":"#f05a3c","strokeWidth":1.1},
  "encoding":{"x":{"datum":8.635,"type":"quantitative"},"x2":{"datum":8.543},"y":{"datum":-0.25,"type":"quantitative","axis":null}}},
 {"data":{"values":[{}]},"mark":{"type":"rule","color":"#f05a3c","strokeWidth":1.1},
  "encoding":{"x":{"datum":8.635,"type":"quantitative"},"x2":{"datum":8.543},"y":{"datum":-0.281,"type":"quantitative","axis":null}}},
 {"data":{"values":[{"ppm":8.597,"v":-0.134,"label":"2.02"}]},"mark":{"type":"text","color":"#f05a3c","fontSize":7.5,"baseline":"middle"},
  "encoding":{"x":{"field":"ppm","type":"quantitative"},"y":{"field":"v","type":"quantitative","axis":null},"text":{"field":"label","type":"nominal"}}},
 {"data":{"values":[{"px":8.576,"py":1.0,"ly":1.18,"label":"8.58"}]},"mark":{"type":"rule","color":"#5252a0","strokeWidth":0.7},
  "encoding":{"x":{"field":"px","type":"quantitative"},"y":{"field":"py","type":"quantitative","axis":null},"y2":{"field":"ly"}}},
 {"data":{"values":[{"px":8.576,"py":1.0,"ly":1.18,"label":"8.58"}]},"mark":{"type":"text","color":"#5252a0","fontSize":7,"angle":270,"align":"left","baseline":"middle","dx":1.5},
  "encoding":{"x":{"field":"px","type":"quantitative"},"y":{"field":"ly","type":"quantitative","axis":null},"text":{"field":"label","type":"nominal"}}}
]},
{"layer":[
 {"data":{"name":"insB2"},"mark":{"type":"line","color":"#333","strokeWidth":1.1,"interpolate":"monotone"},
  "encoding":{
   "x":{"field":"ppm","type":"quantitative","scale":{"domain":[4.042,3.938],"range":[214.8,316.8],"nice":false,"zero":false},
     "axis":{"orient":"bottom","offset":-233.3,"tickCount":21,"labelExpr":"abs(datum.value*40-round(datum.value*40))<0.001 ? format(datum.value,'.3f') : ''","tickSize":{"condition":{"test":"abs(datum.value*40-round(datum.value*40))<0.001","value":3.5},"value":2.5},"labelOverlap":false,"labelFlush":false,"labelPadding":1,"labelColor":"#111","domainColor":"#222","title":null}},
   "y":{"field":"v","type":"quantitative","scale":{"domain":[-0.306,1.0],"range":[462.7,374.3],"nice":false,"zero":false},"axis":null},
   "order":{"field":"ppm","sort":"descending"}}},
 {"data":{"name":"insB2int"},"mark":{"type":"line","color":"#f47a5a","strokeWidth":0.9},
  "encoding":{"x":{"field":"ppm","type":"quantitative"},"y":{"field":"v","type":"quantitative","axis":null},"order":{"field":"ppm","sort":"descending"}}},
 {"data":{"values":[{}]},"mark":{"type":"rule","color":"#f05a3c","strokeWidth":1.1},
  "encoding":{"x":{"datum":4.042,"type":"quantitative"},"x2":{"datum":3.938},"y":{"datum":-0.232,"type":"quantitative","axis":null}}},
 {"data":{"values":[{}]},"mark":{"type":"rule","color":"#f05a3c","strokeWidth":1.1},
  "encoding":{"x":{"datum":4.042,"type":"quantitative"},"x2":{"datum":3.938},"y":{"datum":-0.258,"type":"quantitative","axis":null}}},
 {"data":{"values":[{"ppm":3.986,"v":-0.133,"label":"3.95"}]},"mark":{"type":"text","color":"#f05a3c","fontSize":7.5,"baseline":"middle"},
  "encoding":{"x":{"field":"ppm","type":"quantitative"},"y":{"field":"v","type":"quantitative","axis":null},"text":{"field":"label","type":"nominal"}}},
 {"data":{"values":[{"px":3.9864,"py":1.0,"ly":1.1,"label":"3.99"}]},"mark":{"type":"rule","color":"#5252a0","strokeWidth":0.7},
  "encoding":{"x":{"field":"px","type":"quantitative"},"y":{"field":"py","type":"quantitative","axis":null},"y2":{"field":"ly"}}},
 {"data":{"values":[{"px":3.9864,"py":1.0,"ly":1.1,"label":"3.99"}]},"mark":{"type":"text","color":"#5252a0","fontSize":7,"angle":270,"align":"left","baseline":"middle","dx":1.5},
  "encoding":{"x":{"field":"px","type":"quantitative"},"y":{"field":"ly","type":"quantitative","axis":null},"text":{"field":"label","type":"nominal"}}}
]},
{"layer":[
 {"data":{"name":"insB3"},"mark":{"type":"line","color":"#333","strokeWidth":1.1,"interpolate":"monotone"},
  "encoding":{
   "x":{"field":"ppm","type":"quantitative","scale":{"domain":[0.945,0.792],"range":[328.5,421.8],"nice":false,"zero":false},
     "axis":{"orient":"bottom","offset":-234,"tickCount":31,"labelExpr":"abs(datum.value*20-round(datum.value*20))<0.001 ? format(datum.value,'.2f') : ''","tickSize":{"condition":{"test":"abs(datum.value*20-round(datum.value*20))<0.001","value":3.5},"value":2.5},"labelOverlap":false,"labelFlush":false,"labelPadding":1,"labelColor":"#111","domainColor":"#222","title":null}},
   "y":{"field":"v","type":"quantitative","scale":{"domain":[-0.417,1.0],"range":[462,373.7],"nice":false,"zero":false},"axis":null},
   "order":{"field":"ppm","sort":"descending"}}},
 {"data":{"name":"insB3int"},"mark":{"type":"line","color":"#f47a5a","strokeWidth":0.9},
  "encoding":{"x":{"field":"ppm","type":"quantitative"},"y":{"field":"v","type":"quantitative","axis":null},"order":{"field":"ppm","sort":"descending"}}},
 {"data":{"values":[{}]},"mark":{"type":"rule","color":"#f05a3c","strokeWidth":1.1},
  "encoding":{"x":{"datum":0.945,"type":"quantitative"},"x2":{"datum":0.792},"y":{"datum":-0.305,"type":"quantitative","axis":null}}},
 {"data":{"values":[{}]},"mark":{"type":"rule","color":"#f05a3c","strokeWidth":1.1},
  "encoding":{"x":{"datum":0.945,"type":"quantitative"},"x2":{"datum":0.792},"y":{"datum":-0.333,"type":"quantitative","axis":null}}},
 {"data":{"values":[{"ppm":0.825,"v":-0.17,"label":"6.00"}]},"mark":{"type":"text","color":"#f05a3c","fontSize":7.5,"baseline":"middle"},
  "encoding":{"x":{"field":"ppm","type":"quantitative"},"y":{"field":"v","type":"quantitative","axis":null},"text":{"field":"label","type":"nominal"}}},
 {"data":{"values":[{"px":0.864,"py":1.0,"ly":1.1,"label":"0.87"}]},"mark":{"type":"rule","color":"#5252a0","strokeWidth":0.7},
  "encoding":{"x":{"field":"px","type":"quantitative"},"y":{"field":"py","type":"quantitative","axis":null},"y2":{"field":"ly"}}},
 {"data":{"values":[{"px":0.864,"py":1.0,"ly":1.1,"label":"0.87"}]},"mark":{"type":"text","color":"#5252a0","fontSize":7,"angle":270,"align":"left","baseline":"middle","dx":1.5},
  "encoding":{"x":{"field":"px","type":"quantitative"},"y":{"field":"ly","type":"quantitative","axis":null},"text":{"field":"label","type":"nominal"}}}
]}
],
"resolve":{"scale":{"x":"independent","y":"independent"},"axis":{"x":"independent","y":"independent"}}
}
